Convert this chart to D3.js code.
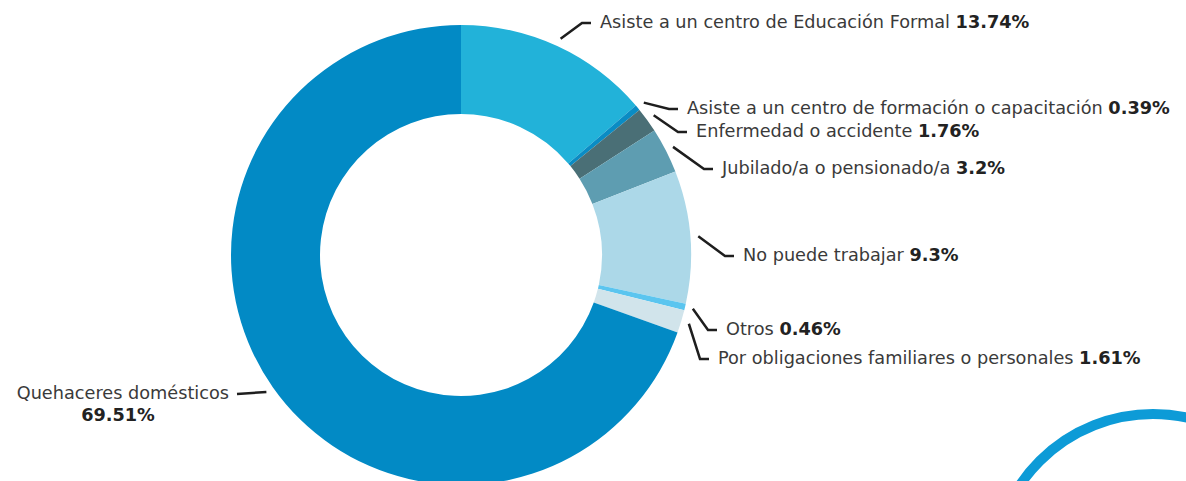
<!DOCTYPE html>
<html>
<head>
<meta charset="utf-8">
<script src="https://cdn.jsdelivr.net/npm/d3@7"></script>
<style>
  body { margin: 0; background: #fff; }
  text { font-family: "DejaVu Sans", sans-serif; }
</style>
</head>
<body>
<script>
// categories, values (percent) and colours, clockwise from 12 o'clock
const categories = [
  "Asiste a un centro de Educación Formal",
  "Asiste a un centro de formación o capacitación",
  "Enfermedad o accidente",
  "Jubilado/a o pensionado/a",
  "No puede trabajar",
  "Otros",
  "Por obligaciones familiares o personales",
  "Quehaceres domésticos"
];
const values = [13.74, 0.39, 1.76, 3.2, 9.3, 0.46, 1.61, 69.51];
const valueLabels = ["13.74%", "0.39%", "1.76%", "3.2%", "9.3%", "0.46%", "1.61%", "69.51%"];
const colors = ["#22b2d9", "#0a8cc4", "#4a6f76", "#5e9db1", "#acd8e8", "#5bc5ef", "#d1e4eb", "#028ac5"];

// where each label sits (layout only)
const labelPos = [
  { x: 600, y: 22 }, { x: 687, y: 108 }, { x: 696, y: 131 }, { x: 722, y: 168 },
  { x: 743, y: 255 }, { x: 726, y: 329 }, { x: 718, y: 358 }, { x: 229, y: 393 }
];

const W = 1186, H = 481;
const cx = 461, cy = 255, R = 230, r = 141;

const svg = d3.select("body").append("svg").attr("width", W).attr("height", H);

// decorative ring bottom right
svg.append("circle").attr("cx", 1153).attr("cy", 574).attr("r", 160)
  .attr("fill", "none").attr("stroke", "#0d9bd7").attr("stroke-width", 10);

const pie = d3.pie().sort(null).value(d => d);
const arcs = pie(values);
const arc = d3.arc().innerRadius(r).outerRadius(R);

const g = svg.append("g").attr("transform", `translate(${cx},${cy})`);
g.selectAll("path").data(arcs).enter().append("path")
  .attr("d", arc).attr("fill", (d, i) => colors[i]);

// leaders
const leaders = svg.append("g");
arcs.forEach((d, i) => {
  const mid = (d.startAngle + d.endAngle) / 2;
  const p0 = [cx + (R + 8) * Math.sin(mid), cy - (R + 8) * Math.cos(mid)];
  const lp = labelPos[i];
  let pts;
  if (i === 7) {
    pts = [[p0[0], p0[1]], [lp.x + 8, lp.y + 1]];
  } else {
    pts = [p0, [lp.x - 18, lp.y + 1], [lp.x - 9, lp.y + 1]];
  }
  leaders.append("path").attr("d", d3.line()(pts))
    .attr("fill", "none").attr("stroke", "#1e1e1e").attr("stroke-width", 2.5);
});

// labels
const labels = svg.append("g").attr("font-size", 17.7).attr("fill", "#3a3a3a");
categories.forEach((c, i) => {
  const lp = labelPos[i];
  if (i === 7) {
    labels.append("text").attr("x", lp.x).attr("y", lp.y).attr("dy", "0.35em")
      .attr("text-anchor", "end").text(c);
    labels.append("text").attr("x", 118).attr("y", lp.y + 22).attr("dy", "0.35em")
      .attr("text-anchor", "middle").attr("font-weight", "bold").attr("fill", "#222")
      .text(valueLabels[i]);
  } else {
    const t = labels.append("text").attr("x", lp.x).attr("y", lp.y).attr("dy", "0.35em");
    t.append("tspan").text(c + " ");
    t.append("tspan").attr("font-weight", "bold").attr("fill", "#222").text(valueLabels[i]);
  }
});
</script>
</body>
</html>
